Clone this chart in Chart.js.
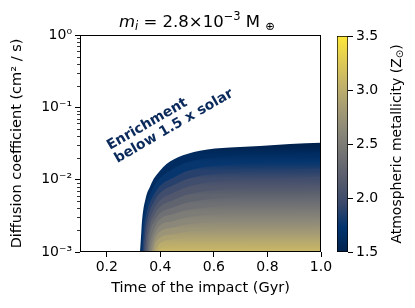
<!DOCTYPE html>
<html><head><meta charset="utf-8">
<script src="https://cdn.jsdelivr.net/npm/chart.js@4"></script>
<style>html,body{margin:0;padding:0;background:#fff}#wrap{position:relative;width:415px;height:308px}canvas{position:absolute;left:0;top:0}</style>
</head><body><div id="wrap"><canvas id="main" width="415" height="308"></canvas><canvas id="cbar" width="415" height="308"></canvas></div>
<script>
// ---- data ----
const xTicks = [0.2, 0.4, 0.6, 0.8, 1.0];
const yMajorTicks = [1e-3, 1e-2, 1e-1, 1];
const yTickLabels = ['10⁻³', '10⁻²', '10⁻¹', '10⁰'];
const cbarTicks = [1.5, 2.0, 2.5, 3.0, 3.5];
const contourLevels = [1.5, 1.625, 1.75, 1.875, 2.0, 2.125, 2.25, 2.375, 2.5, 2.625, 2.75, 2.875, 3.0];
// contour lines of atmospheric metallicity: time of impact (Gyr) and log10 diffusion coefficient
const z1500Time = [0.324, 0.328, 0.331, 0.337, 0.343, 0.350, 0.361, 0.372, 0.387, 0.410, 0.436, 0.466, 0.503, 0.548, 0.604, 0.660, 0.772, 0.884, 1.0];
const z1500LogD = [-3.0, -2.78, -2.60, -2.40, -2.29, -2.19, -2.10, -2.01, -1.93, -1.83, -1.75, -1.69, -1.64, -1.60, -1.57, -1.556, -1.535, -1.507, -1.49];
const z1625Time = [0.3285, 0.335, 0.34, 0.35, 0.36, 0.38, 0.40, 0.45, 0.50, 0.60, 0.80, 1.0];
const z1625LogD = [-3.0, -2.62, -2.50, -2.32, -2.22, -2.07, -1.975, -1.845, -1.76, -1.69, -1.65, -1.62];
const z1750Time = [0.333, 0.34, 0.35, 0.36, 0.38, 0.40, 0.45, 0.50, 0.60, 0.80, 1.0];
const z1750LogD = [-3.0, -2.65, -2.45, -2.33, -2.18, -2.08, -1.97, -1.88, -1.81, -1.77, -1.74];
const z1875Time = [0.3375, 0.345, 0.35, 0.36, 0.38, 0.40, 0.45, 0.50, 0.60, 0.80, 1.0];
const z1875LogD = [-3.0, -2.68, -2.58, -2.44, -2.28, -2.18, -2.075, -1.99, -1.92, -1.88, -1.85];
const z2000Time = [0.342, 0.35, 0.36, 0.38, 0.40, 0.45, 0.50, 0.60, 0.80, 1.0];
const z2000LogD = [-3.0, -2.70, -2.55, -2.38, -2.28, -2.18, -2.10, -2.03, -1.99, -1.96];
const z2125Time = [0.347, 0.35, 0.36, 0.38, 0.40, 0.45, 0.50, 0.60, 0.80, 1.0];
const z2125LogD = [-3.0, -2.86, -2.65, -2.47, -2.37, -2.28, -2.21, -2.145, -2.105, -2.08];
const z2250Time = [0.352, 0.36, 0.38, 0.40, 0.45, 0.50, 0.60, 0.80, 1.0];
const z2250LogD = [-3.0, -2.75, -2.56, -2.46, -2.38, -2.32, -2.26, -2.22, -2.20];
const z2375Time = [0.357, 0.36, 0.37, 0.38, 0.40, 0.45, 0.50, 0.60, 0.80, 1.0];
const z2375LogD = [-3.0, -2.90, -2.75, -2.65, -2.545, -2.475, -2.42, -2.37, -2.335, -2.32];
const z2500Time = [0.362, 0.37, 0.38, 0.40, 0.45, 0.50, 0.60, 0.80, 1.0];
const z2500LogD = [-3.0, -2.85, -2.74, -2.63, -2.57, -2.52, -2.48, -2.45, -2.43];
const z2625Time = [0.368, 0.38, 0.40, 0.45, 0.50, 0.60, 0.80, 1.0];
const z2625LogD = [-3.0, -2.82, -2.715, -2.66, -2.62, -2.59, -2.565, -2.55];
const z2750Time = [0.374, 0.38, 0.40, 0.45, 0.50, 0.60, 0.80, 1.0];
const z2750LogD = [-3.0, -2.90, -2.80, -2.75, -2.72, -2.70, -2.68, -2.66];
const z2875Time = [0.381, 0.39, 0.40, 0.45, 0.50, 0.60, 0.80, 1.0];
const z2875LogD = [-3.0, -2.92, -2.875, -2.825, -2.80, -2.79, -2.785, -2.78];
const z3000Time = [0.39, 0.40, 0.45, 0.50, 0.60, 0.80, 1.0];
const z3000LogD = [-3.0, -2.95, -2.90, -2.88, -2.88, -2.89, -2.90];

const contourTimes = [z1500Time, z1625Time, z1750Time, z1875Time, z2000Time, z2125Time, z2250Time, z2375Time, z2500Time, z2625Time, z2750Time, z2875Time, z3000Time];
const contourLogDs = [z1500LogD, z1625LogD, z1750LogD, z1875LogD, z2000LogD, z2125LogD, z2250LogD, z2375LogD, z2500LogD, z2625LogD, z2750LogD, z2875LogD, z3000LogD];

// cividis colormap stops
const cividis = ['#00224e','#00336f','#39486b','#575c6d','#707173','#8a8779','#a59c74','#c3b369','#e1cc55','#fee838'];
const zMin = 1.5, zMax = 3.5;
function hex2rgb(h){return [parseInt(h.substr(1,2),16),parseInt(h.substr(3,2),16),parseInt(h.substr(5,2),16)];}
function cmap(z){
  let t = Math.max(0, Math.min(1, (z - zMin) / (zMax - zMin)));
  const p = t * (cividis.length - 1);
  const i = Math.min(Math.floor(p), cividis.length - 2);
  const f = p - i;
  const a = hex2rgb(cividis[i]), b = hex2rgb(cividis[i+1]);
  return 'rgb(' + a.map((v,k)=>Math.round(v + (b[k]-v)*f)).join(',') + ')';
}
// contour value near the broad right part, used to orient each band's shading
function anchorLogD(i){
  const ts = contourTimes[i], ld = contourLogDs[i];
  let best = 0;
  ts.forEach((t, k) => { if (Math.abs(t - 0.8) < Math.abs(ts[best] - 0.8)) best = k; });
  return ld[best];
}

Chart.defaults.font.family = 'DejaVu Sans';
Chart.defaults.color = '#000';

const datasets = contourLevels.map((lev, i) => ({
  data: contourTimes[i].map((t, k) => ({x: t, y: Math.pow(10, contourLogDs[i][k])})),
  order: contourLevels.length - i,
  fill: 'start',
  borderWidth: 0,
  pointRadius: 0,
  cubicInterpolationMode: 'monotone',
  backgroundColor: (ctx) => {
    const chart = ctx.chart, area = chart.chartArea;
    if (!area) return cmap(lev);
    const ys = chart.scales.y;
    const y0 = ys.getPixelForValue(Math.pow(10, anchorLogD(i)));
    let y1, next;
    if (i < contourLevels.length - 1) {
      y1 = ys.getPixelForValue(Math.pow(10, anchorLogD(i+1)));
      next = contourLevels[i+1];
    } else { y1 = area.bottom; next = lev + 0.1; }
    const g = chart.ctx.createLinearGradient(0, y0, 0, y1);
    g.addColorStop(0, cmap(lev));
    g.addColorStop(1, cmap(next));
    return g;
  }
}));

function minorTicks(){
  const out = [];
  for (let e = -3; e < 0; e++) for (let m = 2; m <= 9; m++) out.push(m * Math.pow(10, e));
  return out;
}

const decorPlugin = {
  id: 'decor',
  afterDraw(chart) {
    const c = chart.ctx, a = chart.chartArea;
    c.save();
    // frame
    c.strokeStyle = '#000'; c.lineWidth = 1;
    c.strokeRect(Math.round(a.left)+0.5, Math.round(a.top)+0.5, Math.round(a.right-a.left)-1, Math.round(a.bottom-a.top)-1);
    // minor ticks on y
    const ys = chart.scales.y;
    c.lineWidth = 0.8;
    minorTicks().forEach(v => {
      const y = Math.round(ys.getPixelForValue(v)) + 0.5;
      c.beginPath(); c.moveTo(a.left, y); c.lineTo(a.left - 3, y); c.stroke();
    });
    // main title
    c.fillStyle = '#000';
    c.textBaseline = 'alphabetic';
    const parts = [
      {t: 'm', f: 'italic 16.5px DejaVu Sans', dy: 0},
      {t: 'i', f: 'italic 11.5px DejaVu Sans', dy: 3},
      {t: ' = 2.8×10', f: '16.5px DejaVu Sans', dy: 0},
      {t: '−3', f: '11.5px DejaVu Sans', dy: -7},
      {t: ' M ', f: '16.5px DejaVu Sans', dy: 0},
      {t: '⊕', f: '11.5px DejaVu Sans', dy: 3}
    ];
    let w = 0;
    parts.forEach(p => { c.font = p.f; p.w = c.measureText(p.t).width; w += p.w; });
    let x = 197 - w / 2;
    const by = 27;
    parts.forEach(p => { c.font = p.f; c.fillText(p.t, x, by + p.dy); x += p.w; });
    // x axis title
    c.font = '14.5px DejaVu Sans';
    c.textAlign = 'center'; c.textBaseline = 'middle';
    c.fillText('Time of the impact (Gyr)', (a.left + a.right) / 2, 288);
    // y axis title
    c.save();
    c.translate(17, (a.top + a.bottom) / 2);
    c.rotate(-Math.PI / 2);
    c.fillText('Diffusion coefficient (cm² / s)', 0, 0);
    c.restore();
    // annotation
    c.save();
    c.fillStyle = '#0b2a5c';
    c.font = 'bold 14px DejaVu Sans';
    c.textAlign = 'left'; c.textBaseline = 'alphabetic';
    c.translate(110, 150);
    c.rotate(-30 * Math.PI / 180);
    c.fillText('Enrichment', 0, 0);
    c.fillText('below 1.5 x solar', 0, 15);
    c.restore();
    c.restore();
  }
};

new Chart(document.getElementById('main'), {
  type: 'line',
  data: {datasets},
  options: {
    responsive: false, animation: false, devicePixelRatio: 1,
    layout: {padding: {top: 35, right: 94, left: 0, bottom: 0}},
    plugins: {legend: {display: false}, tooltip: {enabled: false}},
    elements: {line: {borderWidth: 0}},
    scales: {
      x: {
        type: 'linear', min: 0.1, max: 1.0,
        afterBuildTicks: s => { s.ticks = xTicks.map(v => ({value: v})); },
        afterFit: s => { s.height = 56; },
        ticks: {callback: v => v.toFixed(1), font: {size: 14}, color: '#000', autoSkip: false, maxRotation: 0, padding: 2},
        grid: {drawOnChartArea: false, drawTicks: true, tickLength: 5, tickWidth: 1, tickColor: '#000'},
        border: {display: false}
      },
      y: {
        type: 'logarithmic', min: 1e-3, max: 1,
        afterBuildTicks: s => { s.ticks = yMajorTicks.map(v => ({value: v})); },
        afterFit: s => { s.width = 80; },
        ticks: {callback: (v, i) => yTickLabels[i], font: {size: 14}, color: '#000', autoSkip: false, padding: 3},
        grid: {drawOnChartArea: false, drawTicks: true, tickLength: 5, tickWidth: 1, tickColor: '#000'},
        border: {display: false}
      }
    }
  },
  plugins: [decorPlugin]
});

const cbarPlugin = {
  id: 'cbarTitle',
  afterDraw(chart) {
    const c = chart.ctx, a = chart.chartArea;
    c.save();
    c.fillStyle = '#000';
    c.translate(397, (a.top + a.bottom) / 2);
    c.rotate(-Math.PI / 2);
    c.textBaseline = 'middle';
    const t1 = 'Atmospheric metallicity (Z';
    c.font = '14px DejaVu Sans'; const w1 = c.measureText(t1).width;
    c.font = '10px DejaVu Sans'; const w2 = c.measureText('⊙').width;
    c.font = '14px DejaVu Sans'; const w3 = c.measureText(')').width;
    let x = -(w1 + w2 + w3) / 2;
    c.textAlign = 'left';
    c.fillText(t1, x, 0); x += w1;
    c.font = '10px DejaVu Sans'; c.fillText('⊙', x, 3); x += w2;
    c.font = '14px DejaVu Sans'; c.fillText(')', x, 0);
    c.restore();
  }
};

new Chart(document.getElementById('cbar'), {
  type: 'bar',
  data: {labels: ['Z'], datasets: [{
    data: [[zMin, zMax]],
    barPercentage: 1, categoryPercentage: 1,
    borderWidth: 1, borderColor: '#000', borderSkipped: false,
    backgroundColor: (ctx) => {
      const chart = ctx.chart, area = chart.chartArea;
      if (!area) return cmap(2.5);
      const ys = chart.scales.y;
      const g = chart.ctx.createLinearGradient(0, ys.getPixelForValue(zMin), 0, ys.getPixelForValue(zMax));
      cividis.forEach((col, k) => g.addColorStop(k / (cividis.length - 1), col));
      return g;
    }
  }]},
  options: {
    responsive: false, animation: false, devicePixelRatio: 1,
    layout: {padding: {top: 36, right: 0, left: 337, bottom: 56}},
    plugins: {legend: {display: false}, tooltip: {enabled: false}},
    scales: {
      x: {display: false},
      y: {
        position: 'right', min: zMin, max: zMax,
        afterBuildTicks: s => { s.ticks = cbarTicks.map(v => ({value: v})); },
        afterFit: s => { s.width = 67; },
        ticks: {callback: v => v.toFixed(1), font: {size: 14}, color: '#000', autoSkip: false, padding: 3},
        grid: {drawOnChartArea: false, drawTicks: true, tickLength: 5, tickWidth: 1, tickColor: '#000'},
        border: {display: false}
      }
    }
  },
  plugins: [cbarPlugin]
});
</script></body></html>
